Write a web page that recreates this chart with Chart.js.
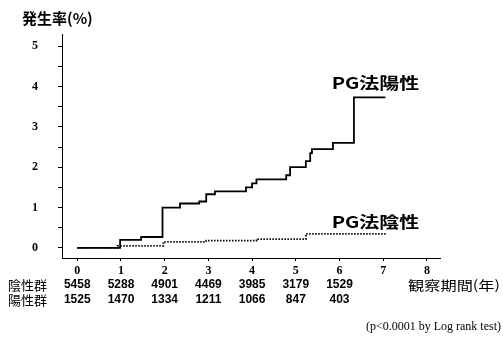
<!DOCTYPE html>
<html>
<head>
<meta charset="utf-8">
<script src="https://cdn.jsdelivr.net/npm/chart.js@4.4.0/dist/chart.umd.min.js"></script>
<style>
  html, body { margin: 0; padding: 0; background: #fff; }
  #wrap { width: 503px; height: 345px; }
</style>
</head>
<body>
<div id="wrap"><canvas id="chart" width="503" height="345"></canvas></div>
<script>
// observation years (x ticks) and y ticks
const yearTicks = [0, 1, 2, 3, 4, 5, 6, 7, 8];
const rateTicks = [0, 0.5, 1, 1.5, 2, 2.5, 3, 3.5, 4, 4.5, 5];

// PG positive (solid step curve)
const posYears = [0, 0.98, 1.46, 1.95, 2.35, 2.79, 2.95, 3.15, 3.86, 4.0, 4.1, 4.78, 4.87, 5.23, 5.33, 5.37, 5.85, 6.33, 7.05];
const posRate  = [0, 0.2, 0.27, 1.0, 1.1, 1.15, 1.33, 1.4, 1.5, 1.6, 1.7, 1.8, 2.0, 2.15, 2.35, 2.45, 2.6, 3.73, 3.73];

// PG negative (dotted step curve)
const negYears = [0, 0.92, 1.97, 2.95, 4.1, 5.23, 7.08];
const negRate  = [0, 0.05, 0.15, 0.18, 0.22, 0.35, 0.35];

// numbers at risk
const riskYears = [0, 1, 2, 3, 4, 5, 6];
const negAtRisk = [5458, 5288, 4901, 4469, 3985, 3179, 1529];
const posAtRisk = [1525, 1470, 1334, 1211, 1066, 847, 403];

const toPoints = (xs, ys) => xs.map((x, i) => ({ x: x, y: ys[i] }));

const cjk = '"Noto Sans CJK JP", sans-serif';

// text stretched a bit wider, like the scanned original
function wideText(ctx, txt, x, y, sx) {
    ctx.save();
    ctx.translate(x, y);
    ctx.scale(sx, 1);
    ctx.fillText(txt, 0, 0);
    ctx.restore();
}

// draws titles, curve labels and the number-at-risk table
const textPlugin = {
    id: "texts",
    afterDraw(chart) {
        const ctx = chart.ctx;
        const xs = chart.scales.x;
        const ys = chart.scales.y;
        ctx.save();
        ctx.fillStyle = "#000";
        ctx.textBaseline = "middle";

        ctx.textAlign = "left";
        ctx.font = "bold 15px " + cjk;
        ctx.fillText("発生率(%)", 22, 18);

        ctx.font = "bold 16px " + cjk;
        wideText(ctx, "PG法陽性", xs.getPixelForValue(5.82), ys.getPixelForValue(4.08), 1.25);
        wideText(ctx, "PG法陰性", xs.getPixelForValue(5.82), ys.getPixelForValue(0.64), 1.25);

        const row1 = 285, row2 = 300;
        ctx.font = "13px " + cjk;
        ctx.fillText("陰性群", 8, row1);
        ctx.fillText("陽性群", 8, row2);
        const w = ctx.measureText("観察期間(年)").width;
        wideText(ctx, "観察期間(年)", 408, row1, 92 / w);

        ctx.textAlign = "center";
        ctx.font = "bold 12px 'Liberation Sans', Arial, sans-serif";
        riskYears.forEach((yr, i) => {
            const px = xs.getPixelForValue(yr);
            ctx.fillText(String(negAtRisk[i]), px, row1);
            ctx.fillText(String(posAtRisk[i]), px, row2);
        });

        ctx.textAlign = "right";
        ctx.font = "12px 'Liberation Serif', serif";
        ctx.fillText("(p<0.0001 by Log rank test)", 501, 327);
        ctx.restore();
    }
};

const ctx = document.getElementById("chart").getContext("2d");
new Chart(ctx, {
    type: "line",
    data: {
        datasets: [
            {
                label: "PG法陽性",
                data: toPoints(posYears, posRate),
                borderColor: "#000",
                borderWidth: 1.8,
                stepped: true,
                pointRadius: 0,
                fill: false
            },
            {
                label: "PG法陰性",
                data: toPoints(negYears, negRate),
                borderColor: "#000",
                borderWidth: 1.8,
                borderDash: [1.5, 1.5],
                stepped: true,
                pointRadius: 0,
                fill: false
            }
        ]
    },
    options: {
        responsive: false,
        animation: false,
        layout: { padding: { left: 0, top: 34, right: 63, bottom: 0 } },
        plugins: {
            legend: { display: false },
            tooltip: { enabled: false }
        },
        scales: {
            x: {
                type: "linear",
                min: -0.35,
                max: 8.3,
                afterBuildTicks: s => { s.ticks = yearTicks.map(v => ({ value: v })); },
                afterFit: s => { s.height = 87; },
                border: { color: "#000", width: 1 },
                grid: { drawOnChartArea: false, drawTicks: true, tickLength: 3, color: "#000" },
                ticks: {
                    color: "#000",
                    padding: 3,
                    maxRotation: 0,
                    font: { family: "'Liberation Serif', serif", size: 12, weight: "bold" }
                }
            },
            y: {
                min: -0.25,
                max: 5.3,
                afterBuildTicks: s => { s.ticks = rateTicks.map(v => ({ value: v })); },
                afterFit: s => { s.width = 62; },
                border: { color: "#000", width: 1 },
                grid: {
                    drawOnChartArea: false,
                    drawTicks: true,
                    tickLength: 4,
                    color: "#000"
                },
                ticks: {
                    color: "#000",
                    padding: 20,
                    callback: v => (Number.isInteger(v) ? String(v) : ""),
                    font: { family: "'Liberation Serif', serif", size: 12, weight: "bold" }
                }
            }
        }
    },
    plugins: [textPlugin]
});
</script>
</body>
</html>
